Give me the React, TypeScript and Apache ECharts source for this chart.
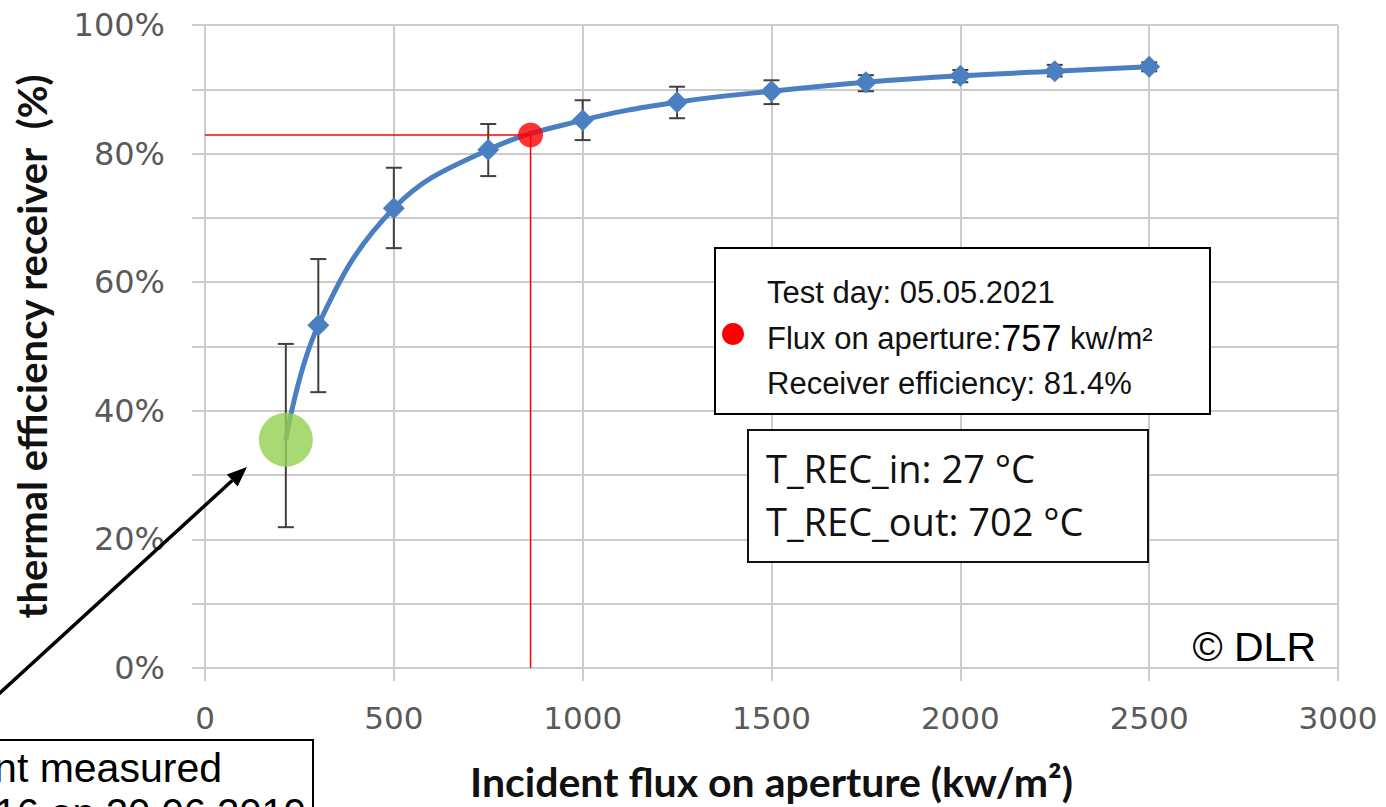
import React, { useEffect, useRef } from "react";
import * as echarts from "echarts";

const fluxX = [214, 300, 500, 750, 1000, 1250, 1500, 1750, 2000, 2250, 2500];
const efficiency = [35.5, 53.3, 71.5, 80.6, 85.2, 88.0, 89.7, 91.1, 92.1, 92.8, 93.5];
const errLow = [21.9, 42.9, 65.3, 76.5, 82.1, 85.5, 87.7, 89.7, 91.1, 92.0, 92.8];
const errHigh = [50.4, 63.6, 77.8, 84.6, 88.3, 90.4, 91.4, 92.2, 93.0, 93.8, 94.2];
const firstPoint = [214, 35.5];
const testPoint = [862, 82.9];
const xTicks = { min: 0, max: 3000, interval: 500 };
const yTicks = { min: 0, max: 100, interval: 10, labelStep: 20 };

export default function App() {
  const ref = useRef<HTMLDivElement>(null);
  useEffect(() => {
    if (!ref.current) return;
    const chart = echarts.init(ref.current, null, { renderer: "svg" });
    const grid = "#cccccc";
    const lineData = fluxX.map((x, i) =>
      i === 0 ? { value: [x, efficiency[i]], symbol: "none" } : [x, efficiency[i]]
    );
    const errData = fluxX.map((x, i) => [x, errLow[i], errHigh[i]]);
    const arrowTip = [247, 467];
    const arrowTail = [-10, 702];
    const dx = arrowTip[0] - arrowTail[0];
    const dy = arrowTip[1] - arrowTail[1];
    const L = Math.sqrt(dx * dx + dy * dy);
    const ux = dx / L, uy = dy / L;
    const hl = 20, hw = 8;
    const bx = arrowTip[0] - ux * hl, by = arrowTip[1] - uy * hl;
    const option: any = {
      animation: false,
      grid: { left: 205, right: 48, top: 25, bottom: 139 },
      xAxis: {
        type: "value",
        min: xTicks.min,
        max: xTicks.max,
        interval: xTicks.interval,
        name: "Incident flux on aperture (kw/m²)",
        nameLocation: "middle",
        nameGap: 93,
        nameTextStyle: { fontFamily: "Lato", fontWeight: "bold", fontSize: 41, color: "#111" },
        axisLine: { show: true, lineStyle: { color: grid, width: 2 } },
        axisTick: { show: true, length: 13, lineStyle: { color: grid, width: 2 } },
        splitLine: { show: true, lineStyle: { color: grid, width: 2 } },
        axisLabel: {
          fontFamily: "DejaVu Sans",
          fontSize: 31,
          color: "#595959",
          margin: 34,
          formatter: (v: number) => String(Math.round(v)),
        },
      },
      yAxis: {
        type: "value",
        min: yTicks.min,
        max: yTicks.max,
        interval: yTicks.interval,
        name: "thermal efficiency receiver  (%)",
        nameLocation: "middle",
        nameRotate: 90,
        nameGap: 153,
        nameTextStyle: { fontFamily: "Lato", fontWeight: "bold", fontSize: 40, color: "#111" },
        axisLine: { show: true, lineStyle: { color: grid, width: 2 } },
        axisTick: { show: true, length: 13, lineStyle: { color: grid, width: 2 } },
        splitLine: { show: true, lineStyle: { color: grid, width: 2 } },
        axisLabel: {
          fontFamily: "DejaVu Sans",
          fontSize: 32,
          color: "#595959",
          margin: 40,
          formatter: (v: number) => (Math.round(v) % yTicks.labelStep === 0 ? `${Math.round(v)}%` : ""),
        },
      },
      series: [
        {
          type: "custom",
          z: 1,
          data: errData,
          renderItem: (params: any, api: any) => {
            const x = api.value(0);
            const lo = api.coord([x, api.value(1)]);
            const hi = api.coord([x, api.value(2)]);
            const cw = 8;
            const st = { stroke: "#404040", lineWidth: 2 };
            return {
              type: "group",
              children: [
                { type: "line", shape: { x1: lo[0], y1: lo[1], x2: hi[0], y2: hi[1] }, style: st },
                { type: "line", shape: { x1: lo[0] - cw, y1: lo[1], x2: lo[0] + cw, y2: lo[1] }, style: st },
                { type: "line", shape: { x1: hi[0] - cw, y1: hi[1], x2: hi[0] + cw, y2: hi[1] }, style: st },
              ],
            };
          },
        },
        {
          type: "line",
          z: 2,
          data: lineData,
          smooth: 0.4,
          symbol: "diamond",
          symbolSize: 22,
          itemStyle: { color: "#4a7fc1" },
          lineStyle: { color: "#4a7fc1", width: 5 },
        },
        {
          type: "scatter",
          z: 3,
          data: [firstPoint],
          symbol: "circle",
          symbolSize: 54,
          itemStyle: { color: "#92d050" },
        },
        {
          type: "line",
          z: 4,
          data: [[0, testPoint[1]], testPoint, [testPoint[0], 0]],
          symbol: "none",
          lineStyle: { color: "#ff0000", width: 1.5 },
        },
        {
          type: "scatter",
          z: 5,
          data: [testPoint],
          symbol: "circle",
          symbolSize: 25,
          itemStyle: { color: "#ff0000" },
        },
      ],
      graphic: [
        {
          type: "rect",
          shape: { x: 715, y: 248, width: 495, height: 166 },
          style: { fill: "#fff", stroke: "#000", lineWidth: 2 },
          z: 10,
        },
        { type: "circle", shape: { cx: 733, cy: 334, r: 11 }, style: { fill: "#ff0000" }, z: 11 },
        {
          type: "text", x: 767, y: 292, z: 11,
          style: { text: "Test day: 05.05.2021", font: "31px 'Liberation Sans'", fill: "#111", verticalAlign: "middle" },
        },
        {
          type: "text", x: 767, y: 338, z: 11,
          style: {
            text: "{a|Flux on aperture:}{b|757}{a| kw/m²}",
            verticalAlign: "middle",
            rich: {
              a: { fontFamily: "Liberation Sans", fontSize: 31, fill: "#111", color: "#111" },
              b: { fontFamily: "Liberation Sans", fontSize: 36, fill: "#000", color: "#000" },
            },
          },
        },
        {
          type: "text", x: 767, y: 383, z: 11,
          style: { text: "Receiver efficiency: 81.4%", font: "31px 'Liberation Sans'", fill: "#111", verticalAlign: "middle" },
        },
        {
          type: "rect",
          shape: { x: 748, y: 430, width: 400, height: 132 },
          style: { fill: "#fff", stroke: "#111", lineWidth: 2 },
          z: 10,
        },
        {
          type: "text", x: 766, y: 468, z: 11,
          style: { text: "T_REC_in: 27 °C", font: "38px 'Open Sans'", fill: "#111", verticalAlign: "middle" },
        },
        {
          type: "text", x: 766, y: 521, z: 11,
          style: { text: "T_REC_out: 702 °C", font: "38px 'Open Sans'", fill: "#111", verticalAlign: "middle" },
        },
        {
          type: "text", x: 1316, y: 647, z: 11,
          style: { text: "© DLR", font: "41px 'Liberation Sans'", fill: "#000", align: "right", verticalAlign: "middle" },
        },
        {
          type: "rect",
          shape: { x: -10, y: 740, width: 323, height: 100 },
          style: { fill: "#fff", stroke: "#000", lineWidth: 2 },
          z: 10,
        },
        {
          type: "text", x: 222, y: 768, z: 11,
          style: { text: "First point measured", font: "41px 'Liberation Sans'", fill: "#000", align: "right", verticalAlign: "middle" },
        },
        {
          type: "text", x: 306, y: 813, z: 11,
          style: { text: "point 16 on 20.06.2019", font: "40px 'Liberation Sans'", fill: "#000", align: "right", verticalAlign: "middle" },
        },
        {
          type: "line", z: 12,
          shape: { x1: arrowTail[0], y1: arrowTail[1], x2: bx, y2: by },
          style: { stroke: "#000", lineWidth: 3.5 },
        },
        {
          type: "polygon", z: 12,
          shape: {
            points: [
              arrowTip,
              [bx - uy * hw, by + ux * hw],
              [bx + uy * hw, by - ux * hw],
            ],
          },
          style: { fill: "#000" },
        },
      ],
    };
    chart.setOption(option);
    return () => chart.dispose();
  }, []);
  return (
    <div
      ref={ref}
      style={{ position: "fixed", left: 0, top: 0, width: 1386, height: 807, background: "#fff" }}
    />
  );
}
